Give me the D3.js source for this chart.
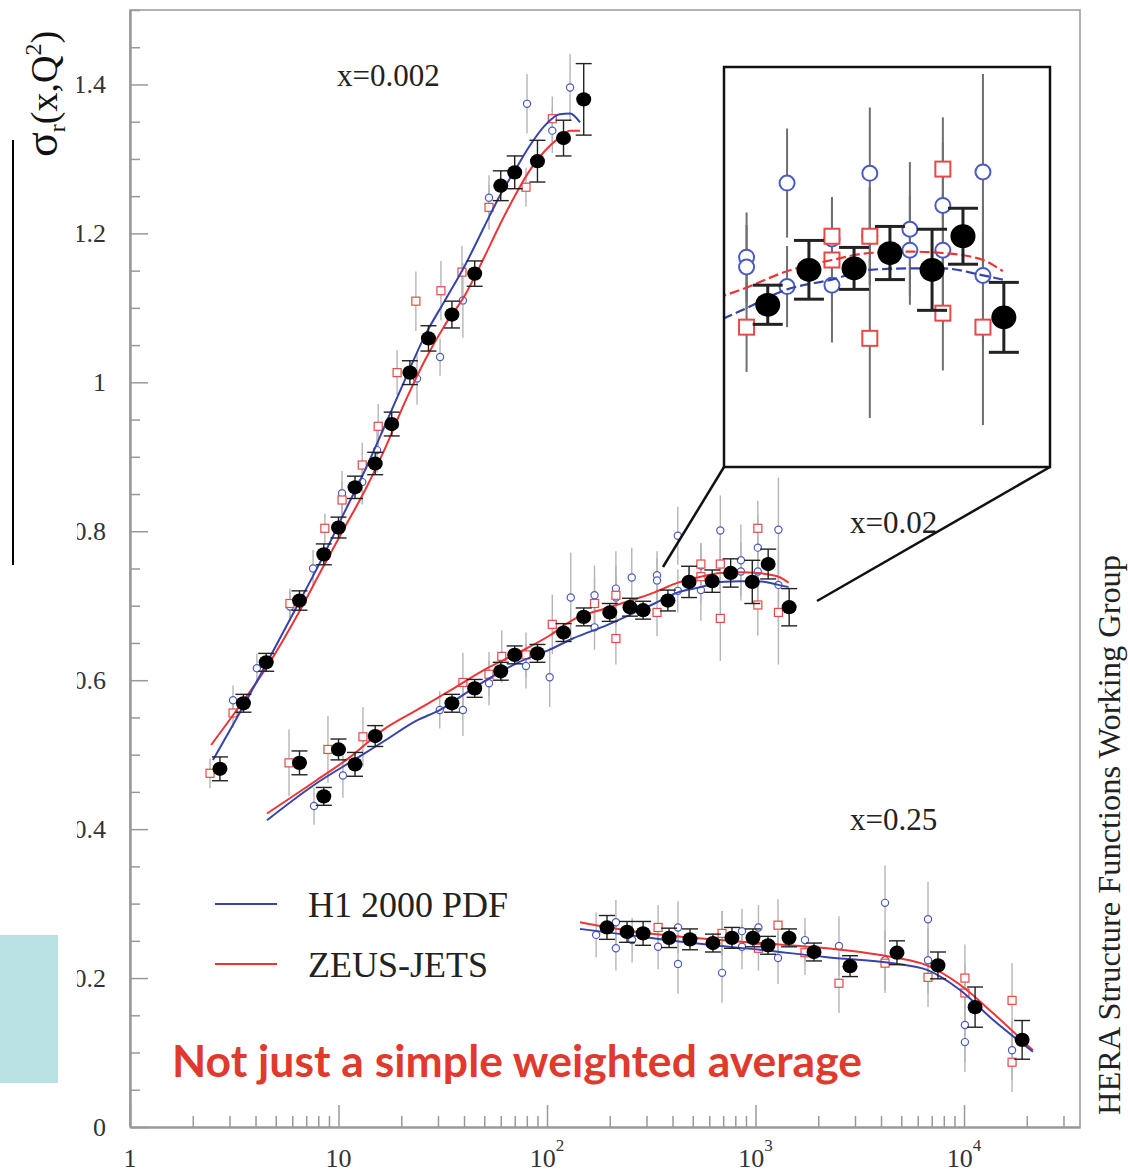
<!DOCTYPE html>
<html>
<head>
<meta charset="utf-8">
<script src="https://cdn.jsdelivr.net/npm/d3@7"></script>
<style>
body { margin: 0; background: #fff; }
svg { display: block; }
.serif { font-family: "Liberation Serif", "DejaVu Serif", serif; }
</style>
</head>
<body>
<div class="graph"></div>
<script>
// ---- data: [Q2, sigma_r, error] ----
var comb002 = [[2.7,0.481,0.016],[3.5,0.569,0.012],[4.5,0.624,0.012],[6.5,0.707,0.013],[8.5,0.769,0.014],[10,0.805,0.014],[12,0.859,0.015],[15,0.891,0.015],[18,0.944,0.016],[22,1.013,0.016],[27,1.059,0.017],[35,1.091,0.018],[45,1.146,0.017],[60,1.264,0.02],[70,1.282,0.022],[90,1.297,0.028],[120,1.328,0.024],[150,1.380,0.048]];
var h1_002 = [[3.12,0.573,0.02],[4.06,0.616,0.02],[5.85,0.699,0.02],[7.55,0.750,0.025],[10.4,0.851,0.03],[13,0.866,0.03],[15.3,0.909,0.03],[23.8,1.005,0.035],[30.7,1.034,0.025],[39.5,1.110,0.05],[52.7,1.248,0.03],[80.2,1.374,0.04],[106,1.338,0.03],[129,1.396,0.045]];
var zeus_002 = [[2.42,0.475,0.02],[3.12,0.556,0.02],[5.85,0.703,0.02],[8.6,0.804,0.02],[10.4,0.842,0.025],[13,0.889,0.03],[15.5,0.941,0.03],[19.1,1.013,0.03],[23.5,1.109,0.04],[31,1.123,0.04],[39.1,1.148,0.035],[52.7,1.235,0.03],[79.3,1.262,0.026],[106,1.354,0.03]];
var h1Curve002 = [[2.5,0.493],[3.37,0.557],[4.49,0.621],[6.54,0.707],[8.43,0.766],[10.7,0.826],[13.4,0.882],[16.7,0.942],[20.8,1.003],[26,1.063],[32.4,1.110],[40.4,1.157],[50.4,1.211],[59.5,1.251],[70.3,1.285],[82.8,1.318],[97.8,1.345],[115,1.360],[129,1.361],[144,1.349]];
var zeusCurve002 = [[2.45,0.513],[3.37,0.566],[4.49,0.616],[6.54,0.694],[8.43,0.752],[10.7,0.805],[13.4,0.855],[16.7,0.911],[20.8,0.973],[26,1.030],[32.4,1.077],[40.4,1.117],[50.4,1.170],[59.5,1.212],[70.3,1.251],[82.8,1.285],[97.8,1.311],[115,1.329],[129,1.338],[144,1.338]];

var comb02 = [[6.5,0.489,0.016],[8.5,0.444,0.012],[10,0.507,0.014],[12,0.487,0.016],[15,0.525,0.014],[35,0.569,0.012],[45,0.589,0.012],[60,0.612,0.012],[70,0.634,0.012],[90,0.636,0.012],[120,0.664,0.012],[150,0.685,0.012],[200,0.691,0.012],[250,0.698,0.012],[289,0.694,0.012],[380,0.707,0.014],[480,0.732,0.021],[620,0.733,0.015],[760,0.744,0.019],[965,0.732,0.029],[1150,0.756,0.02],[1450,0.698,0.025]];
var h1_02 = [[7.63,0.431,0.025],[10.5,0.472,0.03],[30.6,0.560,0.025],[39.5,0.560,0.035],[52.7,0.596,0.03],[79.3,0.619,0.03],[103,0.604,0.04],[130,0.711,0.06],[169,0.714,0.04],[169,0.671,0.03],[214,0.723,0.05],[214,0.711,0.03],[255,0.738,0.04],[337,0.741,0.032],[337,0.734,0.03],[424,0.794,0.039],[424,0.720,0.029],[547,0.754,0.03],[547,0.721,0.041],[678,0.801,0.047],[678,0.756,0.035],[851,0.761,0.048],[851,0.746,0.039],[1026,0.778,0.045],[1026,0.746,0.04],[1288,0.802,0.07],[1288,0.728,0.05]];
var zeus_02 = [[5.79,0.489,0.045],[8.9,0.507,0.045],[13.1,0.524,0.04],[39.5,0.597,0.04],[52.7,0.608,0.03],[60.7,0.632,0.035],[79.3,0.634,0.03],[106,0.675,0.04],[169,0.703,0.035],[214,0.714,0.04],[214,0.656,0.035],[337,0.691,0.032],[547,0.756,0.028],[547,0.739,0.036],[678,0.756,0.035],[678,0.683,0.057],[1026,0.804,0.037],[1026,0.701,0.041],[1288,0.691,0.07]];
var h1Curve02 = [[4.54,0.412],[7.88,0.462],[11.4,0.490],[16.3,0.517],[23.8,0.546],[30.7,0.560],[39.5,0.580],[53.3,0.603],[71.8,0.623],[103,0.641],[133,0.656],[194,0.674],[279,0.694],[328,0.703],[424,0.718],[547,0.725],[678,0.732],[851,0.733],[1026,0.733],[1288,0.728],[1442,0.725]];
var zeusCurve02 = [[4.54,0.421],[7.88,0.466],[11.4,0.497],[16.3,0.533],[23.8,0.560],[34.7,0.587],[49.3,0.613],[71.8,0.636],[103,0.660],[133,0.681],[194,0.697],[279,0.711],[328,0.718],[424,0.731],[547,0.739],[678,0.744],[851,0.745],[1026,0.744],[1288,0.739],[1442,0.731]];

var comb25 = [[194,0.268,0.016],[242,0.262,0.014],[289,0.260,0.016],[385,0.254,0.013],[485,0.252,0.014],[625,0.247,0.012],[771,0.254,0.014],[972,0.254,0.012],[1148,0.244,0.012],[1448,0.254,0.012],[1908,0.235,0.012],[2840,0.216,0.014],[4770,0.234,0.016],[7500,0.217,0.018],[11300,0.161,0.027],[19000,0.117,0.026]];
var h1_25 = [[172,0.258,0.03],[214,0.275,0.03],[214,0.240,0.03],[256,0.251,0.03],[341,0.242,0.03],[425,0.268,0.035],[425,0.219,0.04],[691,0.260,0.03],[691,0.207,0.04],[861,0.263,0.03],[861,0.242,0.03],[1033,0.268,0.03],[1282,0.227,0.035],[1727,0.251,0.03],[2514,0.243,0.04],[4180,0.301,0.05],[4180,0.224,0.04],[6720,0.279,0.05],[6720,0.224,0.045],[10100,0.137,0.05],[10100,0.114,0.04],[17000,0.103,0.04]];
var zeus_25 = [[341,0.268,0.03],[691,0.260,0.03],[1033,0.240,0.03],[1282,0.271,0.035],[1727,0.234,0.03],[2514,0.193,0.04],[4180,0.220,0.04],[6720,0.201,0.04],[10100,0.200,0.045],[10100,0.180,0.04],[17000,0.170,0.05],[17000,0.087,0.04]];
var h1Curve25 = [[144,0.266],[242,0.258],[502,0.247],[1051,0.238],[2203,0.228],[4566,0.220],[6650,0.211],[9570,0.184],[13770,0.144],[21400,0.101]];
var zeusCurve25 = [[144,0.275],[242,0.264],[502,0.254],[1051,0.247],[2203,0.240],[4566,0.228],[6650,0.217],[9570,0.191],[13770,0.153],[21400,0.103]];

var xMajor = [1, 10, 100, 1000, 10000];
var xLabels = [["1",""],["10",""],["10","2"],["10","3"],["10","4"]];
var yMajor = [0, 0.2, 0.4, 0.6, 0.8, 1, 1.2, 1.4];
var yLabels = ["0","0.2","0.4","0.6","0.8","1","1.2","1.4"];
var binLabels = [["x=0.002", 337, 86], ["x=0.02", 850, 533], ["x=0.25", 850, 830]];
var legendNames = ["H1 2000 PDF", "ZEUS-JETS"];

var blue = "#3543ad", red = "#ee3434", blueMk = "#4a5ac4", redMk = "#e84848", axisGrey = "#999";

var svg = d3.select(".graph").append("svg")
    .attr("width", 1130).attr("height", 1175);

var x = d3.scaleLog().domain([1, 36000]).range([130, 1080]);
var y = d3.scaleLinear().domain([0, 1.5]).range([1127, 10]);

// slide remnants on the left
svg.append("rect").attr("x", 0).attr("y", 935).attr("width", 58).attr("height", 148).attr("fill", "#b9e0e3");
svg.append("line").attr("x1", 13).attr("x2", 13).attr("y1", 140).attr("y2", 565)
    .attr("stroke", "#000").attr("stroke-width", 2);

// frame
svg.append("path").attr("d", "M130,1127V10H1080V1127")
    .attr("fill", "none").attr("stroke", axisGrey).attr("stroke-width", 1.5);

// x axis
var minorX = x.ticks().filter(function(d) { return xMajor.indexOf(d) < 0; });
function styleAxis(g) {
  g.selectAll(".domain").attr("stroke", axisGrey).attr("stroke-width", 2);
  g.selectAll(".tick line").attr("stroke", axisGrey).attr("stroke-width", 1.5);
}
svg.append("g").attr("transform", "translate(0,1127)")
    .call(d3.axisBottom(x).tickValues(minorX).tickSizeInner(-11).tickSizeOuter(0).tickFormat(""))
    .call(styleAxis);
svg.append("g").attr("transform", "translate(0,1127)")
    .call(d3.axisBottom(x).tickValues(xMajor).tickSizeInner(-22).tickSizeOuter(0).tickFormat(""))
    .call(styleAxis);

var xl = svg.selectAll(".xlab").data(xMajor).enter().append("text")
    .attr("class", "serif xlab")
    .attr("x", function(d) { return x(d); })
    .attr("y", 1167)
    .attr("text-anchor", "middle")
    .attr("font-size", 26).attr("fill", "#333");
xl.append("tspan").text(function(d, i) { return xLabels[i][0]; });
xl.append("tspan").attr("dy", -16).attr("font-size", 17)
    .text(function(d, i) { return xLabels[i][1]; });

// y axis
var minorY = y.ticks(30).filter(function(d) { return Math.abs(Math.round(d * 5) - d * 5) > 1e-6; });
svg.append("g").attr("transform", "translate(130,0)")
    .call(d3.axisLeft(y).tickValues(minorY).tickSizeInner(-10).tickSizeOuter(0).tickFormat(""))
    .call(styleAxis);
svg.append("g").attr("transform", "translate(130,0)")
    .call(d3.axisLeft(y).tickValues(yMajor).tickSizeInner(-18).tickSizeOuter(0).tickFormat(""))
    .call(styleAxis);

svg.append("clipPath").attr("id", "ylabclip").append("rect")
    .attr("x", 77).attr("y", 0).attr("width", 60).attr("height", 1175);
svg.append("g").attr("clip-path", "url(#ylabclip)")
  .selectAll("text").data(yMajor).enter().append("text")
    .attr("class", "serif")
    .attr("x", 106).attr("y", function(d) { return y(d) + 9; })
    .attr("text-anchor", "end").attr("font-size", 26).attr("fill", "#333")
    .text(function(d, i) { return yLabels[i]; });

// y title
var yt = svg.append("text").attr("class", "serif")
    .attr("transform", "translate(57,157) rotate(-90)")
    .attr("font-size", 38).attr("fill", "#111");
yt.append("tspan").attr("font-size", 46).text("σ");
yt.append("tspan").attr("font-size", 24).attr("dy", 8).text("r");
yt.append("tspan").attr("dy", -8).text("(x,Q");
yt.append("tspan").attr("font-size", 24).attr("dy", -16).text("2");
yt.append("tspan").attr("dy", 16).text(")");

// right side credit
svg.append("text").attr("class", "serif")
    .attr("transform", "translate(1120,1115) rotate(-90)")
    .attr("font-size", 32).attr("fill", "#222")
    .attr("textLength", 560).attr("lengthAdjust", "spacingAndGlyphs")
    .text("HERA Structure Functions Working Group");

// ---- drawing one bin of points and curves ----
function drawBin(g, xs, ys, h1, zeus, comb, h1c, zc, st) {
  var line = d3.line().x(function(d) { return xs(d[0]); }).y(function(d) { return ys(d[1]); })
      .curve(d3.curveMonotoneX);

  g.selectAll(null).data(h1.concat(zeus)).enter().append("line")
      .attr("x1", function(d) { return xs(d[0]); }).attr("x2", function(d) { return xs(d[0]); })
      .attr("y1", function(d) { return ys(d[1] - d[2]); }).attr("y2", function(d) { return ys(d[1] + d[2]); })
      .attr("stroke", st.barColor).attr("stroke-width", st.barW);

  g.selectAll(null).data(h1).enter().append("circle")
      .attr("cx", function(d) { return xs(d[0]); }).attr("cy", function(d) { return ys(d[1]); })
      .attr("r", st.rOpen).attr("fill", "#fff").attr("stroke", blueMk).attr("stroke-width", st.openW);

  g.selectAll(null).data(zeus).enter().append("rect")
      .attr("x", function(d) { return xs(d[0]) - st.sq / 2; }).attr("y", function(d) { return ys(d[1]) - st.sq / 2; })
      .attr("width", st.sq).attr("height", st.sq)
      .attr("fill", "#fff").attr("stroke", redMk).attr("stroke-width", st.openW);

  g.append("path").datum(zc).attr("d", line).attr("fill", "none")
      .attr("stroke", red).attr("stroke-width", st.curveW).attr("stroke-dasharray", st.dash);
  g.append("path").datum(h1c).attr("d", line).attr("fill", "none")
      .attr("stroke", blue).attr("stroke-width", st.curveW).attr("stroke-dasharray", st.dash);

  var eb = g.selectAll(null).data(comb).enter().append("g");
  eb.append("line")
      .attr("x1", function(d) { return xs(d[0]); }).attr("x2", function(d) { return xs(d[0]); })
      .attr("y1", function(d) { return ys(d[1] - d[2]); }).attr("y2", function(d) { return ys(d[1] + d[2]); });
  eb.append("line")
      .attr("x1", function(d) { return xs(d[0]) - st.cap; }).attr("x2", function(d) { return xs(d[0]) + st.cap; })
      .attr("y1", function(d) { return ys(d[1] + d[2]); }).attr("y2", function(d) { return ys(d[1] + d[2]); });
  eb.append("line")
      .attr("x1", function(d) { return xs(d[0]) - st.cap; }).attr("x2", function(d) { return xs(d[0]) + st.cap; })
      .attr("y1", function(d) { return ys(d[1] - d[2]); }).attr("y2", function(d) { return ys(d[1] - d[2]); });
  eb.selectAll("line").attr("stroke", "#222").attr("stroke-width", st.blackW);
  eb.append("ellipse")
      .attr("cx", function(d) { return xs(d[0]); }).attr("cy", function(d) { return ys(d[1]); })
      .attr("rx", st.rBlack).attr("ry", st.rBlack * 0.95).attr("fill", "#000");
}

var mainStyle = {barColor: "#b5b5b5", barW: 1.4, rOpen: 3.6, sq: 8, openW: 1.2, curveW: 2,
                 dash: null, cap: 8, blackW: 1.4, rBlack: 7.5};
var plot = svg.append("g");
drawBin(plot, x, y, h1_002, zeus_002, comb002, h1Curve002, zeusCurve002, mainStyle);
drawBin(plot, x, y, h1_02, zeus_02, comb02, h1Curve02, zeusCurve02, mainStyle);
drawBin(plot, x, y, h1_25, zeus_25, comb25, h1Curve25, zeusCurve25, mainStyle);

// bin labels
svg.selectAll(".binlab").data(binLabels).enter().append("text")
    .attr("class", "serif binlab")
    .attr("x", function(d) { return d[1]; }).attr("y", function(d) { return d[2]; })
    .attr("font-size", 31).attr("fill", "#222")
    .text(function(d) { return d[0]; });

// ---- inset: magnified view of x=0.02 at high Q2 ----
var xi = d3.scaleLog().domain([296.5, 1884]).range([724, 1050]);
var yi = d3.scaleLinear().domain([0.591, 0.877]).range([467, 67]);
var inRange = function(d) { return d[0] >= xi.domain()[0]; };

svg.append("line").attr("x1", 663).attr("y1", 567).attr("x2", 724).attr("y2", 467)
    .attr("stroke", "#111").attr("stroke-width", 2.5);
svg.append("line").attr("x1", 817).attr("y1", 601).attr("x2", 1050).attr("y2", 467)
    .attr("stroke", "#111").attr("stroke-width", 2.5);

svg.append("rect").attr("x", 724).attr("y", 67).attr("width", 326).attr("height", 400)
    .attr("fill", "#fff");
svg.append("clipPath").attr("id", "insetclip").append("rect")
    .attr("x", 724).attr("y", 67).attr("width", 326).attr("height", 400);
var inset = svg.append("g").attr("clip-path", "url(#insetclip)");
drawBin(inset, xi, yi, h1_02.filter(inRange), zeus_02.filter(inRange), comb02.filter(inRange),
        h1Curve02, zeusCurve02,
        {barColor: "#6f6f6f", barW: 2, rOpen: 7.5, sq: 15, openW: 2, curveW: 2.2,
         dash: "10,4", cap: 15, blackW: 3, rBlack: 12.5});
svg.append("rect").attr("x", 724).attr("y", 67).attr("width", 326).attr("height", 400)
    .attr("fill", "none").attr("stroke", "#111").attr("stroke-width", 2.5);

// legend
var leg = svg.selectAll(".leg").data(legendNames).enter().append("g").attr("class", "leg")
    .attr("transform", function(d, i) { return "translate(0," + (904 + i * 60) + ")"; });
leg.append("line").attr("x1", 215).attr("x2", 277).attr("y1", 0).attr("y2", 0)
    .attr("stroke", function(d, i) { return i === 0 ? blue : red; }).attr("stroke-width", 2);
leg.append("text").attr("class", "serif").attr("x", 308).attr("y", 13)
    .attr("font-size", 36).attr("fill", "#222")
    .text(function(d) { return d; });

// slide remark
svg.append("text").attr("x", 172).attr("y", 1077)
    .attr("font-family", "Lato, 'Open Sans', sans-serif").attr("font-weight", 700)
    .attr("font-size", 44).attr("fill", "#e03a2e")
    .attr("textLength", 690).attr("lengthAdjust", "spacingAndGlyphs")
    .text("Not just a simple weighted average");
</script>
</body>
</html>
